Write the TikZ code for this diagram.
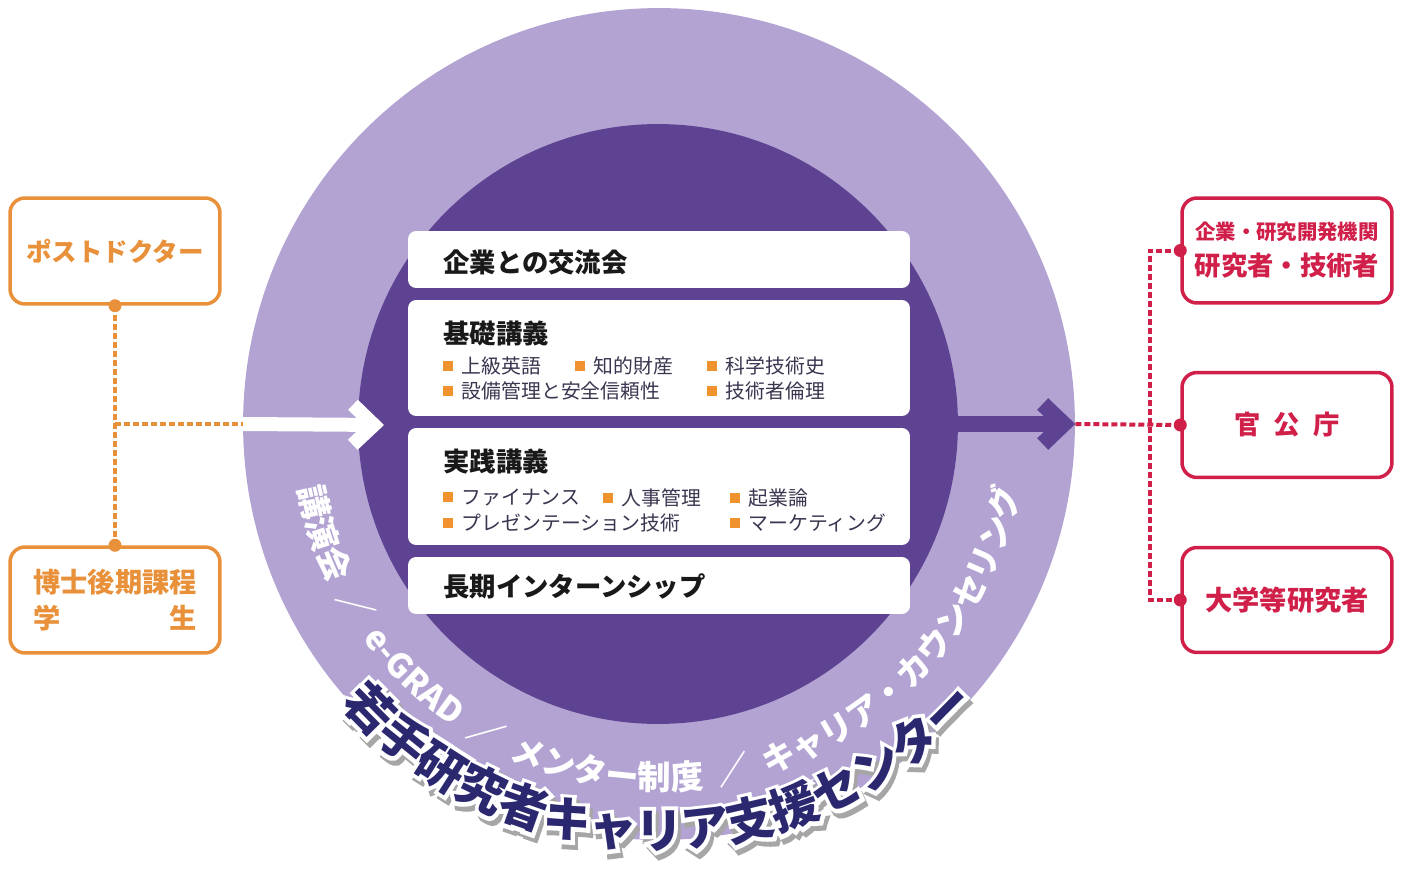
\documentclass[tikz,border=0pt]{standalone}
\usepackage{fontspec}
\setmainfont{Noto Sans CJK JP}
\newfontfamily\haloface{Noto Sans CJK JP}[BoldFeatures={FakeBold=16}]
\usetikzlibrary{positioning,decorations.text,arrows.meta}

\definecolor{ringlav}{HTML}{B2A3D3}
\definecolor{corepurple}{HTML}{5E4392}
\definecolor{navytext}{HTML}{2C2870}
\definecolor{orangeline}{HTML}{E8913A}
\definecolor{redline}{HTML}{D0204A}
\definecolor{bulorange}{HTML}{F0922E}
\definecolor{itemgray}{HTML}{3C3550}

\newcommand{\sq}{\textcolor{bulorange}{\rule[0.05cm]{0.2cm}{0.2cm}}\hspace{0.17cm}}

\tikzset{
  progbox/.style={fill=white, rounded corners=0.16cm, minimum width=10.04cm, inner sep=0},
  head/.style={anchor=west, inner sep=0, text=black!90, font=\bfseries\fontsize{15}{17}\selectfont},
  item/.style={anchor=west, inner sep=0, text=itemgray, font=\fontsize{11.3}{13}\selectfont},
  leftbox/.style={draw=orangeline, line width=0.07cm, rounded corners=0.3cm, minimum width=4.2cm,
    minimum height=2.12cm, text=orangeline, align=center, font=\bfseries\fontsize{14.5}{20.5}\selectfont},
  rightbox/.style={draw=redline, line width=0.07cm, rounded corners=0.3cm, minimum width=4.2cm,
    minimum height=2.1cm, text=redline, align=center, font=\bfseries\fontsize{15}{20.5}\selectfont},
  orangedash/.style={orangeline, line width=0.08cm, dash pattern=on 0.12cm off 0.06cm},
  reddash/.style={redline, line width=0.08cm, dash pattern=on 0.12cm off 0.06cm},
  dot/.style={circle, inner sep=0, minimum size=0.26cm},
}

\begin{document}
\begin{tikzpicture}[x=0.02cm, y=-0.02cm]
\useasboundingbox (0,0) rectangle (1404,872);

\node[circle, fill=ringlav, minimum size=16.64cm, inner sep=0] (ring) at (659,424) {};
\node[circle, fill=corepurple, minimum size=12cm, inner sep=0] (core) at (658,424) {};

\path[decorate, decoration={text along path, text align=center, text color=white,
  text={|\bfseries\fontsize{19}{19}\selectfont|講演会 \ ／ \ e-GRAD \ ／ \ メンター制度 \ ／ \ キャリア・カウンセリング}}]
  (659,424) ++(178:366) arc[start angle=178, end angle=2, radius=366];

\path[decorate, decoration={text along path, text align=center, text color=black!35,
  text={|\haloface\bfseries\fontsize{27.3}{27.3}\selectfont|若手研究者キャリア支援センター}}]
  (662,429) ++(175:424) arc[start angle=175, end angle=5, radius=424];
\path[decorate, decoration={text along path, text align=center, text color=white,
  text={|\haloface\bfseries\fontsize{27.3}{27.3}\selectfont|若手研究者キャリア支援センター}}]
  (659,424) ++(175:424) arc[start angle=175, end angle=5, radius=424];
\path[decorate, decoration={text along path, text align=center, text color=navytext,
  text={|\bfseries\fontsize{27.3}{27.3}\selectfont|若手研究者キャリア支援センター}}]
  (659,424) ++(175:424) arc[start angle=175, end angle=5, radius=424];

\coordinate (whitetip) at (384,425);
\draw[white, line width=0.28cm, -{Straight Barb[length=0.42cm, width=0.8cm]}] (ring.west) -- (whitetip);
\draw[corepurple, line width=0.32cm, -{Straight Barb[length=0.42cm, width=0.8cm]}] (core.east) -- (ring.east);

\node[progbox, minimum height=1.14cm] (exchange) at (659,259.5) {};
\node[progbox, minimum height=2.32cm] (basic) at (659,358) {};
\node[progbox, minimum height=2.34cm] (practice) at (659,486.5) {};
\node[progbox, minimum height=1.14cm] (intern) at (659,585.5) {};

\node[head] (exchangetxt) at (443,262) {企業との交流会};
\node[head] (basictxt) at (443,333) {基礎講義};
\node[item] (b1) at (443,366) {\sq 上級英語};
\node[item] (b2) at (575,366) {\sq 知的財産};
\node[item] (b3) at (707,366) {\sq 科学技術史};
\node[item] (b4) at (443,391) {\sq 設備管理と安全信頼性};
\node[item] (b5) at (707,391) {\sq 技術者倫理};
\node[head] (practicetxt) at (443,461) {実践講義};
\node[item] (p1) at (443,498) {\sq ファイナンス};
\node[item] (p2) at (603,498) {\sq 人事管理};
\node[item] (p3) at (730,498) {\sq 起業論};
\node[item] (p4) at (443,523) {\sq プレゼンテーション技術};
\node[item] (p5) at (730,523) {\sq マーケティング};
\node[head] (interntxt) at (443,586) {長期インターンシップ};

\node[leftbox] (postdoc) at (115,251) {ポストドクター};
\node[leftbox, font=\bfseries\fontsize{15.5}{20.5}\selectfont] (doctor) at (115,600)
  {博士後期課程\\\makebox[6em]{学\hfill 生}};

\draw[orangedash] (postdoc.south) -- (doctor.north);
\draw[orangedash] (postdoc.south |- ring.west) -- (ring.west);
\node[dot, fill=orangeline] (postdocdot) at (postdoc.south) {};
\node[dot, fill=orangeline] (doctordot) at (doctor.north) {};

\node[rightbox] (corp) at (1287,250.5)
  {{\fontsize{11.6}{15}\selectfont 企業・研究開発機関}\\研究者・技術者};
\node[rightbox] (gov) at (1287,425) {官\hspace{0.5em}公\hspace{0.5em}庁};
\node[rightbox, font=\bfseries\fontsize{15.5}{20.5}\selectfont] (univ) at (1287,600) {大学等研究者};

\coordinate (rbus) at (1150,425);
\draw[reddash] (ring.east) -- (gov.west);
\draw[reddash] (corp.west) -| (rbus) |- (univ.west);
\node[dot, fill=redline] (corpdot) at (corp.west) {};
\node[dot, fill=redline] (govdot) at (gov.west) {};
\node[dot, fill=redline] (univdot) at (univ.west) {};
\end{tikzpicture}
\end{document}
